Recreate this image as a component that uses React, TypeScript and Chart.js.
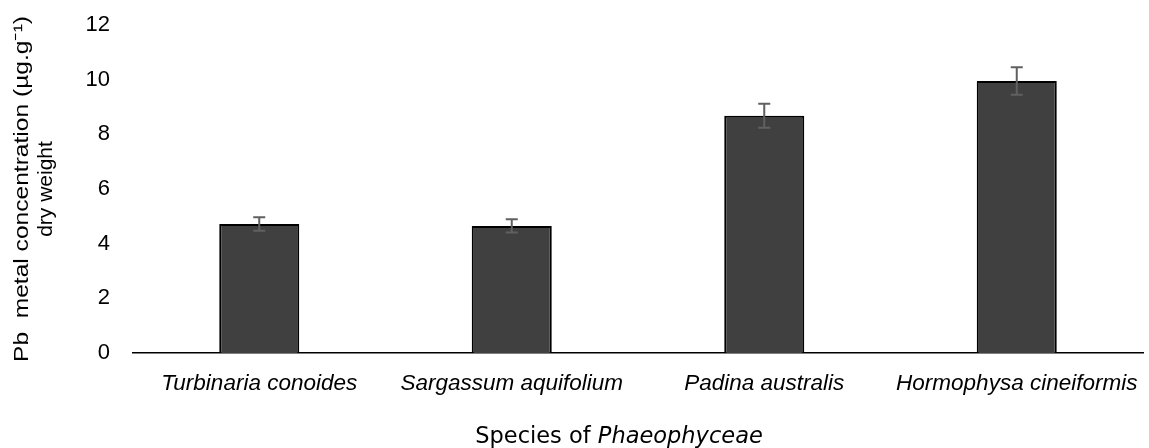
import React, { useEffect, useRef } from "react";
import { Chart, registerables } from "chart.js";

Chart.register(...registerables);

const categories = [
  "Turbinaria conoides",
  "Sargassum aquifolium",
  "Padina australis",
  "Hormophysa cineiformis",
];
const pbValues = [4.72, 4.65, 8.68, 9.95];
const pbErrors = [0.25, 0.24, 0.44, 0.5];
const yTicks = [0, 2, 4, 6, 8, 10, 12];
const yTitleLines = ["Pb  metal concentration (µg.g\u207B\u00B9)", "dry weight"];
const xTitlePlain = "Species of ";
const xTitleItalic = "Phaeophyceae";

const errorBarPlugin = {
  id: "errorBars",
  afterDatasetsDraw(chart: any) {
    const ctx = chart.ctx;
    const meta = chart.getDatasetMeta(0);
    const y = chart.scales.y;
    ctx.save();
    ctx.strokeStyle = "#606060";
    ctx.lineWidth = 2;
    meta.data.forEach((bar: any, i: number) => {
      const v = pbValues[i];
      const e = pbErrors[i];
      const yt = y.getPixelForValue(v + e);
      const yb = y.getPixelForValue(v - e);
      const x = bar.x;
      ctx.beginPath();
      ctx.moveTo(x, yt);
      ctx.lineTo(x, yb);
      ctx.moveTo(x - 6, yt);
      ctx.lineTo(x + 6, yt);
      ctx.moveTo(x - 6, yb);
      ctx.lineTo(x + 6, yb);
      ctx.stroke();
    });
    ctx.restore();
  },
};

const titlesPlugin = {
  id: "titles",
  afterDraw(chart: any) {
    const ctx = chart.ctx;
    const area = chart.chartArea;
    ctx.save();
    ctx.fillStyle = "#000";
    // Y title
    const cy = (area.top + area.bottom) / 2;
    ctx.font = "21px 'Liberation Sans', Arial, sans-serif";
    ctx.textAlign = "center";
    ctx.textBaseline = "middle";
    const xs = [22, 46];
    const targetW = [346, 0];
    yTitleLines.forEach((line, i) => {
      ctx.save();
      ctx.translate(xs[i], cy);
      ctx.rotate(-Math.PI / 2);
      if (targetW[i]) {
        const w = ctx.measureText(line).width;
        ctx.scale(targetW[i] / w, 1);
      }
      ctx.fillText(line, 0, 0);
      ctx.restore();
    });
    // X title
    ctx.textBaseline = "alphabetic";
    ctx.textAlign = "left";
    const fPlain = "22.5px 'DejaVu Sans', sans-serif";
    const fItal = "italic 22.5px 'DejaVu Sans', sans-serif";
    ctx.font = fPlain;
    const w1 = ctx.measureText(xTitlePlain).width;
    ctx.font = fItal;
    const w2 = ctx.measureText(xTitleItalic).width;
    const cx = 619;
    const x0 = cx - (w1 + w2) / 2;
    const by = 443;
    ctx.font = fPlain;
    ctx.fillText(xTitlePlain, x0, by);
    ctx.font = fItal;
    ctx.fillText(xTitleItalic, x0 + w1, by);
    ctx.restore();
  },
};

export default function App() {
  const ref = useRef<HTMLCanvasElement | null>(null);
  useEffect(() => {
    document.body.style.margin = "0";
    if (!ref.current) return;
    const chart = new Chart(ref.current, {
      type: "bar",
      data: {
        labels: categories,
        datasets: [
          {
            data: pbValues,
            backgroundColor: "#404040",
            borderColor: "#000000",
            borderWidth: 2,
            categoryPercentage: 1,
            barPercentage: 0.317,
          },
        ],
      },
      options: {
        animation: false,
        responsive: false,
        maintainAspectRatio: false,
        layout: { padding: { top: 25, right: 6, left: 0, bottom: 0 } },
        plugins: {
          legend: { display: false },
          tooltip: { enabled: false },
        },
        scales: {
          x: {
            grid: { display: false, drawTicks: false },
            border: { display: true, color: "#000", width: 1.5 },
            ticks: {
              color: "#000",
              padding: 17,
              maxRotation: 0,
              autoSkip: false,
              font: { family: "'Liberation Sans', Arial, sans-serif", size: 22.5, style: "italic" },
            },
            afterFit(scale: any) {
              scale.height = 95;
              scale.paddingLeft = 0;
              scale.paddingRight = 0;
            },
          },
          y: {
            min: 0,
            max: 12,
            afterBuildTicks(scale: any) {
              scale.ticks = yTicks.map((v) => ({ value: v }));
            },
            grid: { display: false, drawTicks: false },
            border: { display: false },
            ticks: {
              color: "#000",
              padding: 23,
              font: { family: "'Liberation Sans', Arial, sans-serif", size: 22 },
            },
            afterFit(scale: any) {
              scale.width = 133;
              scale.paddingTop = 0;
              scale.paddingBottom = 0;
            },
          },
        },
      },
      plugins: [errorBarPlugin, titlesPlugin],
    });
    return () => chart.destroy();
  }, []);
  return (
    <div style={{ width: 1149, height: 448 }}>
      <canvas ref={ref} width={1149} height={448} style={{ display: "block" }} />
    </div>
  );
}
